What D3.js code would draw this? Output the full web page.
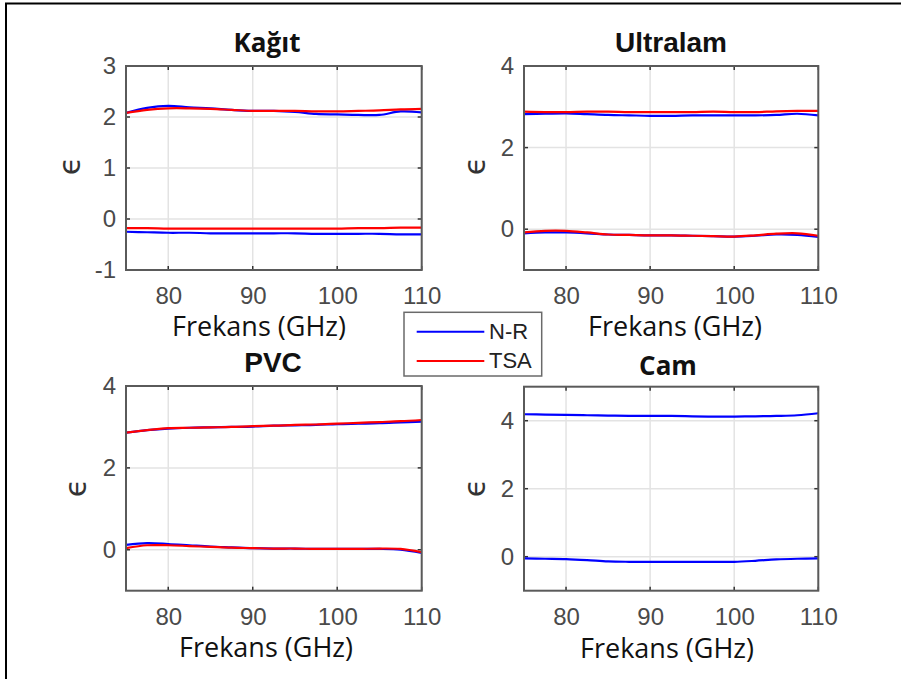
<!DOCTYPE html>
<html>
<head>
<meta charset="utf-8">
<script src="https://cdn.jsdelivr.net/npm/d3@7"></script>
<style>
  html, body { margin: 0; background: #fff; overflow: hidden; }
  svg { display: block; }
</style>
</head>
<body>
<div id="master"></div>
<script>
// frequency axis (GHz)
const freq = [75, 77.5, 80, 82.5, 85, 87.5, 90, 92.5, 95, 97.5, 100, 102.5, 105, 107.5, 110];
const xTicks = [80, 90, 100, 110];

// Kağıt
const kagitNrRe  = [2.08, 2.18, 2.22, 2.19, 2.17, 2.14, 2.12, 2.12, 2.10, 2.06, 2.05, 2.04, 2.04, 2.11, 2.09];
const kagitTsaRe = [2.08, 2.14, 2.17, 2.17, 2.16, 2.14, 2.12, 2.12, 2.12, 2.11, 2.11, 2.12, 2.13, 2.15, 2.16];
const kagitNrIm  = [-0.25, -0.26, -0.27, -0.27, -0.28, -0.28, -0.28, -0.28, -0.28, -0.29, -0.29, -0.29, -0.29, -0.30, -0.30];
const kagitTsaIm = [-0.18, -0.18, -0.19, -0.19, -0.19, -0.19, -0.19, -0.19, -0.19, -0.19, -0.19, -0.18, -0.18, -0.17, -0.17];
const kagitTicks = [-1, 0, 1, 2, 3];

// Ultralam
const ultraNrRe  = [2.82, 2.83, 2.84, 2.82, 2.80, 2.79, 2.78, 2.78, 2.79, 2.79, 2.79, 2.79, 2.80, 2.83, 2.79];
const ultraTsaRe = [2.88, 2.87, 2.87, 2.88, 2.88, 2.87, 2.87, 2.87, 2.87, 2.88, 2.87, 2.87, 2.89, 2.90, 2.90];
const ultraNrIm  = [-0.10, -0.08, -0.08, -0.10, -0.13, -0.14, -0.15, -0.15, -0.16, -0.17, -0.18, -0.16, -0.13, -0.14, -0.19];
const ultraTsaIm = [-0.08, -0.04, -0.04, -0.08, -0.13, -0.14, -0.15, -0.15, -0.16, -0.17, -0.18, -0.15, -0.11, -0.10, -0.16];

// PVC
const pvcNrRe  = [2.86, 2.92, 2.96, 2.98, 2.99, 3.00, 3.01, 3.03, 3.04, 3.05, 3.07, 3.08, 3.09, 3.11, 3.13];
const pvcTsaRe = [2.86, 2.92, 2.97, 2.98, 2.99, 3.00, 3.02, 3.03, 3.05, 3.06, 3.08, 3.10, 3.12, 3.14, 3.17];
const pvcNrIm  = [0.12, 0.16, 0.14, 0.11, 0.08, 0.06, 0.04, 0.03, 0.03, 0.02, 0.02, 0.02, 0.02, 0.00, -0.08];
const pvcTsaIm = [0.04, 0.11, 0.11, 0.09, 0.07, 0.05, 0.04, 0.03, 0.03, 0.02, 0.02, 0.02, 0.03, 0.02, -0.06];

// Cam (only N-R)
const camNrRe = [4.19, 4.18, 4.17, 4.16, 4.15, 4.14, 4.14, 4.14, 4.13, 4.12, 4.12, 4.13, 4.14, 4.16, 4.22];
const camNrIm = [-0.05, -0.06, -0.07, -0.10, -0.14, -0.15, -0.15, -0.15, -0.15, -0.15, -0.15, -0.12, -0.08, -0.06, -0.05];

const evenTicks = [0, 2, 4];
const legendNames = ["N-R", "TSA"];
const blue = "#0000ff", red = "#ff0000";

const w = 901, h = 679;
const svg = d3.select("#master").append("svg").attr("width", w).attr("height", h);

// outer frame (only left and top edges visible)
svg.append("path").attr("d", "M6,679V3.5H901")
  .attr("fill", "none").attr("stroke", "#000").attr("stroke-width", 2);

const calibri = "'Open Sans', sans-serif";
const arial = "'Liberation Sans', Arial, sans-serif";

const panels = [
  { title: "Kağıt", tFont: calibri, tSize: 26, box: [126, 421.7, 66, 270], yDom: [-1, 3], yTicks: kagitTicks,
    series: [[kagitNrRe, blue], [kagitNrIm, blue], [kagitTsaRe, red], [kagitTsaIm, red]],
    tPos: [267, 51.7], lPos: [259, 336], ePos: [71, 166] },
  { title: "Ultralam", tFont: arial, tSize: 28, box: [524, 818.3, 66, 270], yDom: [-1, 4], yTicks: evenTicks,
    series: [[ultraNrRe, blue], [ultraNrIm, blue], [ultraTsaRe, red], [ultraTsaIm, red]],
    tPos: [671, 51.7], lPos: [675, 336], ePos: [476, 166] },
  { title: "PVC", tFont: arial, tSize: 28, box: [126, 421.7, 386, 590.7], yDom: [-1, 4], yTicks: evenTicks,
    series: [[pvcNrRe, blue], [pvcNrIm, blue], [pvcTsaRe, red], [pvcTsaIm, red]],
    tPos: [273, 371.7], lPos: [266, 656.7], ePos: [77, 488] },
  { title: "Cam", tFont: calibri, tSize: 26, box: [524, 818.3, 386.7, 590.7], yDom: [-1, 5], yTicks: evenTicks,
    series: [[camNrRe, blue], [camNrIm, blue]],
    tPos: [668, 375], lPos: [667, 658], ePos: [476, 488] }
];

panels.forEach((p, i) => {
  const [x0, x1, y0, y1] = p.box;
  const x = d3.scaleLinear().domain([75, 110]).range([x0, x1]);
  const y = d3.scaleLinear().domain(p.yDom).range([y1, y0]);
  const g = svg.append("g");

  // grid
  g.selectAll(".gx").data(xTicks).enter().append("line")
    .attr("x1", d => x(d)).attr("x2", d => x(d)).attr("y1", y0).attr("y2", y1)
    .attr("stroke", "#e3e3e3").attr("stroke-width", 1.5);
  g.selectAll(".gy").data(p.yTicks).enter().append("line")
    .attr("x1", x0).attr("x2", x1).attr("y1", d => y(d)).attr("y2", d => y(d))
    .attr("stroke", "#e3e3e3").attr("stroke-width", 1.5);

  // inner ticks, all four sides
  const tk = 4;
  xTicks.forEach(d => {
    g.append("line").attr("x1", x(d)).attr("x2", x(d)).attr("y1", y1).attr("y2", y1 - tk).attr("stroke", "#333").attr("stroke-width", 1.5);
    g.append("line").attr("x1", x(d)).attr("x2", x(d)).attr("y1", y0).attr("y2", y0 + tk).attr("stroke", "#333").attr("stroke-width", 1.5);
  });
  p.yTicks.forEach(d => {
    g.append("line").attr("x1", x0).attr("x2", x0 + tk).attr("y1", y(d)).attr("y2", y(d)).attr("stroke", "#333").attr("stroke-width", 1.5);
    g.append("line").attr("x1", x1).attr("x2", x1 - tk).attr("y1", y(d)).attr("y2", y(d)).attr("stroke", "#333").attr("stroke-width", 1.5);
  });

  // curves
  const clipId = "clip" + i;
  svg.append("clipPath").attr("id", clipId).append("rect")
    .attr("x", x0).attr("y", y0).attr("width", x1 - x0).attr("height", y1 - y0);
  const line = d3.line().x((d, j) => x(freq[j])).y(d => y(d)).curve(d3.curveCatmullRom);
  g.append("g").attr("clip-path", "url(#" + clipId + ")")
    .selectAll("path").data(p.series).enter().append("path")
    .attr("d", d => line(d[0]))
    .attr("fill", "none").attr("stroke", d => d[1]).attr("stroke-width", 2.2);

  // box
  g.append("rect").attr("x", x0).attr("y", y0).attr("width", x1 - x0).attr("height", y1 - y0)
    .attr("fill", "none").attr("stroke", "#5a5a5a").attr("stroke-width", 2);

  // tick labels via d3 axes
  const xa = g.append("g").attr("transform", "translate(0," + y1 + ")")
    .call(d3.axisBottom(x).tickValues(xTicks).tickSize(0).tickPadding(17).tickFormat(d => String(d)));
  const ya = g.append("g").attr("transform", "translate(" + x0 + ",0)")
    .call(d3.axisLeft(y).tickValues(p.yTicks).tickSize(0).tickPadding(10).tickFormat(d => String(d)));
  [xa, ya].forEach(a => {
    a.select(".domain").remove();
    a.selectAll("text").attr("font-family", arial).attr("font-size", 24).attr("fill", "#4a4a4a");
  });

  g.append("text").attr("x", p.tPos[0]).attr("y", p.tPos[1]).attr("text-anchor", "middle")
    .attr("font-family", p.tFont).attr("font-weight", "bold").attr("font-size", p.tSize).attr("fill", "#111")
    .text(p.title);
  g.append("text").attr("x", p.lPos[0]).attr("y", p.lPos[1]).attr("text-anchor", "middle")
    .attr("font-family", calibri).attr("font-size", 27).attr("fill", "#111")
    .text("Frekans (GHz)");
  g.append("text").attr("transform", "translate(" + p.ePos[0] + "," + p.ePos[1] + ") rotate(-90)")
    .attr("text-anchor", "middle").attr("dy", "0.3em")
    .attr("font-family", "'DejaVu Sans', sans-serif").attr("font-size", 30).attr("fill", "#333")
    .text("\u03F5");
});

// legend
const lg = svg.append("g");
lg.append("rect").attr("x", 404).attr("y", 312.3).attr("width", 137.7).attr("height", 63.7)
  .attr("fill", "#fff").attr("stroke", "#6a6a6a").attr("stroke-width", 1.5);
const legY = d3.scalePoint().domain(legendNames).range([331.7, 361]);
lg.selectAll("line").data(legendNames).enter().append("line")
  .attr("x1", 416.7).attr("x2", 484.3).attr("y1", d => legY(d)).attr("y2", d => legY(d))
  .attr("stroke", (d, i) => i === 0 ? blue : red).attr("stroke-width", 2);
lg.selectAll("text").data(legendNames).enter().append("text")
  .attr("x", 489).attr("y", d => legY(d) + 7)
  .attr("font-family", arial).attr("font-size", 22).attr("fill", "#222")
  .text(d => d);
</script>
</body>
</html>
